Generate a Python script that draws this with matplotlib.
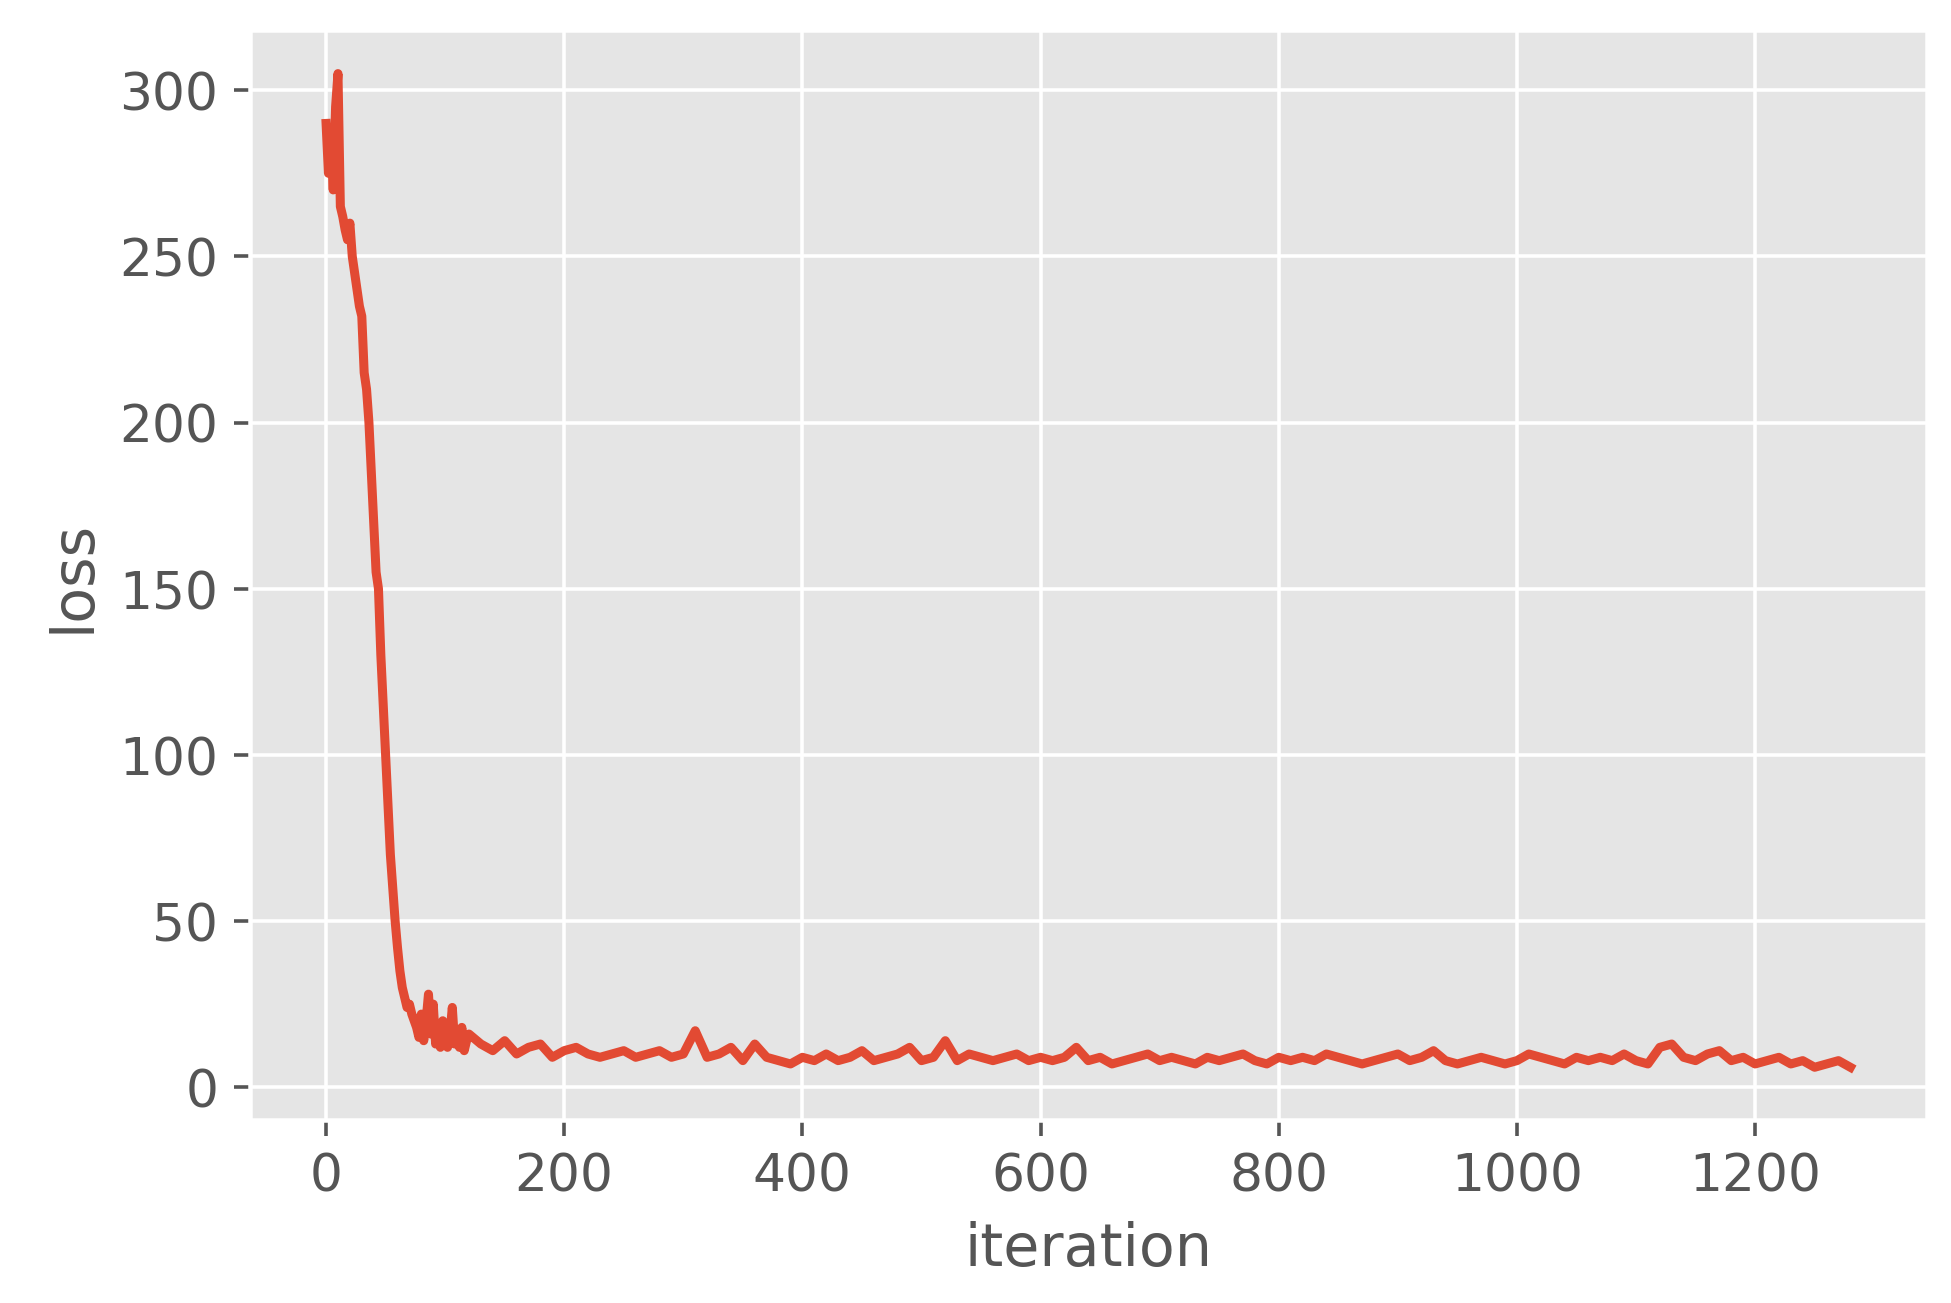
import numpy as np
import matplotlib
matplotlib.use("Agg")
import matplotlib.pyplot as plt

# early part of training, read every 2 iterations
early_iter = list(range(0, 122, 2))
early_loss = [290, 275, 285, 270, 295, 305, 265, 262, 258, 255, 260, 250, 245, 240,
              235, 232, 215, 210, 200, 185, 170, 155, 150, 130, 115, 100, 85, 70, 60,
              50, 42, 35, 30, 27, 24, 25, 22, 20, 18, 15, 22, 14, 20, 28, 16, 25, 13,
              18, 12, 20, 14, 12, 16, 24, 13, 15, 12, 18, 11, 14, 16]

# plateau, read every 10 iterations
late_iter = list(range(130, 1290, 10))
late_loss = [13, 11, 14, 10, 12, 13, 9, 11, 12, 10, 9, 10, 11, 9, 10, 11, 9, 10, 17, 9,
             10, 12, 8, 13, 9, 8, 7, 9, 8, 10, 8, 9, 11, 8, 9, 10, 12, 8, 9, 14,
             8, 10, 9, 8, 9, 10, 8, 9, 8, 9, 12, 8, 9, 7, 8, 9, 10, 8, 9, 8,
             7, 9, 8, 9, 10, 8, 7, 9, 8, 9, 8, 10, 9, 8, 7, 8, 9, 10, 8, 9,
             11, 8, 7, 8, 9, 8, 7, 8, 10, 9, 8, 7, 9, 8, 9, 8, 10, 8, 7, 12,
             13, 9, 8, 10, 11, 8, 9, 7, 8, 9, 7, 8, 6, 7, 8, 6]

iters = np.array(early_iter + late_iter)
loss = np.array(early_loss + late_loss)

plt.style.use('ggplot')
fig = plt.figure(figsize=(6.006, 4.012), dpi=325)
ax = fig.add_subplot(111)
fig.subplots_adjust(left=0.128, right=0.987, top=0.976, bottom=0.14)
ax.plot(iters, loss, color='#E24A33', linewidth=2.0)
ax.set_xlabel('iteration', fontsize=13)
ax.set_ylabel('loss', fontsize=13)
ax.tick_params(labelsize=11.5)
ax.set_yticks([0, 50, 100, 150, 200, 250, 300])
ax.set_xticks([0, 200, 400, 600, 800, 1000, 1200])
ax.set_ylim(-10, 318)
fig.savefig('out.png')
